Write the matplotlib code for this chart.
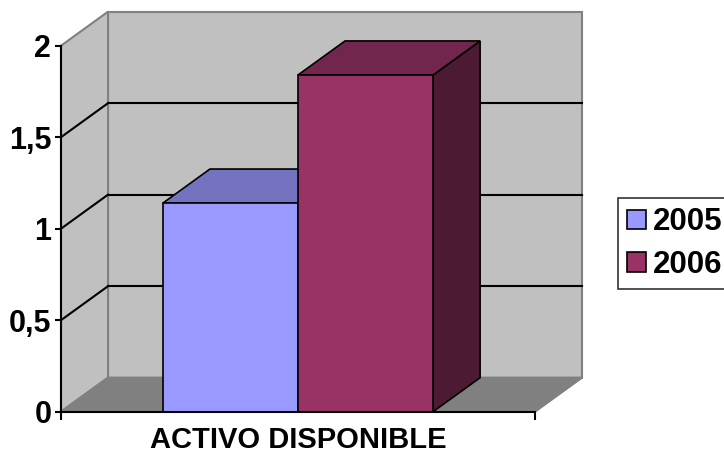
import matplotlib.pyplot as plt
from matplotlib.patches import Polygon, Patch

categories = ['ACTIVO DISPONIBLE']
series = ['2005', '2006']
values = [1.14, 1.84]
y_ticks = [0, 0.5, 1, 1.5, 2]
y_tick_labels = ['0', '0,5', '1', '1,5', '2']

front_colors = ['#9999FF', '#993366']
top_colors = ['#7373BF', '#73264D']
side_colors = ['#5C5C99', '#4D1A33']

WALL = '#C0C0C0'
FLOOR = '#808080'
EDGE = '#808080'

# depth of the 3d box, in data units
DX = 0.0992
DY = 0.186
GAP = 0.215

plt.rcParams['font.family'] = ['Liberation Sans', 'DejaVu Sans']
plt.rcParams['font.weight'] = 'bold'

fig = plt.figure(figsize=(7.24, 4.54), dpi=100)
ax = fig.add_axes([61 / 724, 42.3 / 454, 474 / 724, 366 / 454])
ax.set_xlim(0, 1)
ax.set_ylim(0, 2)
ymax = y_ticks[-1]


def poly(pts, fc, ec, lw=1.0, z=1):
    ax.add_patch(Polygon(pts, closed=True, facecolor=fc, edgecolor=ec,
                         linewidth=lw, zorder=z, clip_on=False))


# walls and floor
poly([(DX, DY), (1 + DX, DY), (1 + DX, ymax + DY), (DX, ymax + DY)], WALL, EDGE, 1.5)
poly([(0, 0), (DX, DY), (DX, ymax + DY), (0, ymax)], WALL, EDGE, 1.5)
poly([(0, 0), (1, 0), (1 + DX, DY), (DX, DY)], FLOOR, EDGE, 1.5)

# gridlines on back and side walls
for t in y_ticks[1:-1]:
    ax.plot([DX, 1 + DX], [t + DY, t + DY], color='black', lw=1.5, zorder=2, clip_on=False)
    ax.plot([0, DX], [t, t + DY], color='black', lw=1.5, zorder=2, clip_on=False)

# bars
width = (1 - 2 * GAP) / len(series)
for i, v in enumerate(values):
    x0 = GAP + i * width
    x1 = x0 + width
    z = 3 + i
    poly([(x1, 0), (x1 + DX, DY), (x1 + DX, v + DY), (x1, v)], side_colors[i], 'black', 1.2, z)
    poly([(x0, v), (x1, v), (x1 + DX, v + DY), (x0 + DX, v + DY)], top_colors[i], 'black', 1.2, z)
    poly([(x0, 0), (x1, 0), (x1, v), (x0, v)], front_colors[i], 'black', 1.2, z)

for s in ['top', 'right']:
    ax.spines[s].set_visible(False)
for s in ['left', 'bottom']:
    ax.spines[s].set_linewidth(1.5)
    ax.spines[s].set_zorder(10)

ax.set_yticks(y_ticks)
ax.set_yticklabels(y_tick_labels, fontsize=22, fontweight='bold')
ax.tick_params(axis='y', direction='out', length=4, width=1.5, pad=3)
ax.set_xticks([0, 1])
ax.set_xticklabels(['', ''])
ax.tick_params(axis='x', direction='out', length=6, width=1.5)
ax.set_xticks([0.5], minor=True)
ax.set_xticklabels(categories, minor=True, fontsize=21, fontweight='bold')
ax.tick_params(axis='x', which='minor', length=0, pad=10)

handles = [Patch(facecolor=c, edgecolor='black', linewidth=1.2) for c in front_colors]
leg = fig.legend(handles, series, loc='upper left', bbox_to_anchor=(618 / 724, 1 - 198 / 454),
                 prop={'family': 'Liberation Sans', 'weight': 'bold', 'size': 22.5},
                 handlelength=0.58, handleheight=0.58, handletextpad=0.25,
                 labelspacing=0.4, borderpad=0.3, borderaxespad=0,
                 fancybox=False, frameon=True)
leg.get_frame().set_edgecolor('black')
leg.get_frame().set_linewidth(1.2)

fig.savefig('out.png', dpi=100)
